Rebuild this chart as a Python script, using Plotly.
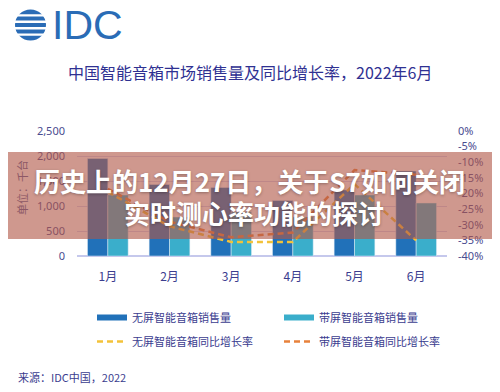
import plotly.graph_objects as go

# ---- data ----
months = ['1月', '2月', '3月', '4月', '5月', '6月']
no_screen_sales = [1950, 1430, 1370, 1110, 1320, 1700]
screen_sales = [1220, 780, 880, 780, 1220, 1060]
no_screen_growth = [-19.5, -30.5, -35.5, -35.5, -17.0, -35.0]
screen_growth = [-18.5, -29.0, -34.0, -32.5, -12.5, -14.0]

left_ticks = [0, 500, 1000, 1500, 2000, 2500]
left_ticktext = ['0', '500', '1,000', '1,500', '2,000', '2,500']
right_ticks = [0, -5, -10, -15, -20, -25, -30, -35, -40]
right_ticktext = ['0%', '-5%', '-10%', '-15%', '-20%', '-25%', '-30%', '-35%', '-40%']

names = ['无屏智能音箱销售量', '带屏智能音箱销售量', '无屏智能音箱同比增长率', '带屏智能音箱同比增长率']
title_text = '中国智能音箱市场销售量及同比增长率，2022年6月'
source_text = '来源：IDC中国，2022'
overlay_line1 = '历史上的12月27日，关于S7如何关闭'
overlay_line2 = '实时测心率功能的探讨'

# ---- layout geometry (page has an 8px body margin) ----
OFF = 8
W, H = 484, 376
L, T = 77 - OFF, 131 - OFF
RIGHT, BOT = 447 - OFF, 256 - OFF
R, B = W - RIGHT, H - BOT
PW, PH = RIGHT - L, BOT - T

def px(x):  # screen x -> paper
    return (x - OFF - L) / PW

def py(y):  # screen y -> paper
    return (BOT - (y - OFF)) / PH

NAVY = '#3b3d8f'
DARK_BLUE = '#2171b9'
TEAL = '#3aaecb'
YELLOW = '#f3c23a'
ORANGE = '#e7813b'
FONT = 'Noto Sans, Noto Sans CJK SC, sans-serif'
CJK = 'Noto Sans CJK SC, Noto Sans, sans-serif'

fig = go.Figure()
fig.add_trace(go.Bar(x=months, y=no_screen_sales, name=names[0], marker_color=DARK_BLUE,
                     showlegend=False))
fig.add_trace(go.Bar(x=months, y=screen_sales, name=names[1], marker_color=TEAL,
                     showlegend=False))
fig.add_trace(go.Scatter(x=months, y=no_screen_growth, name=names[2], yaxis='y2', mode='lines',
                         line=dict(color=YELLOW, width=2.5, dash='6px,4px'), showlegend=False))
fig.add_trace(go.Scatter(x=months, y=screen_growth, name=names[3], yaxis='y2', mode='lines',
                         line=dict(color=ORANGE, width=2.5, dash='6px,4px'), showlegend=False))

# legend entries (bar items drawn as thick lines like the original), two columns
leg_styles = [dict(color=DARK_BLUE, width=6), dict(color=TEAL, width=6),
              dict(color=YELLOW, width=2.5, dash='6px,4px'), dict(color=ORANGE, width=2.5, dash='6px,4px')]
leg_ids = ['legend', 'legend2', 'legend', 'legend2']
for i, (nm, st, lg) in enumerate(zip(names, leg_styles, leg_ids)):
    fig.add_trace(go.Scatter(x=[None], y=[None], mode='lines', name=nm, line=st, showlegend=True,
                             legend=lg, legendgroup='g%d' % i))

shapes = []
# overlay band
shapes.append(dict(type='rect', xref='paper', yref='paper', x0=px(-5), x1=px(505), y0=py(239), y1=py(152),
                   fillcolor='rgba(176,86,71,0.61)', line=dict(width=0), layer='above'))
# logo circle with stripes
shapes.append(dict(type='circle', xref='paper', yref='paper', x0=px(15), x1=px(46), y0=py(40.5), y1=py(9.5),
                   fillcolor='#2a6cb6', line=dict(width=0), layer='above'))
for g in [14.2, 20.6, 27.0, 33.4]:
    shapes.append(dict(type='rect', xref='paper', yref='paper', x0=px(13), x1=px(48), y0=py(g + 2.4), y1=py(g),
                       fillcolor='white', line=dict(width=0), layer='above'))

def ann(text, x, y, size, color, family=CJK, xanchor='center', font_extra=None, **kw):
    f = dict(family=family, size=size, color=color)
    if font_extra:
        f.update(font_extra)
    return dict(text=text, xref='paper', yref='paper', x=px(x), y=py(y), xanchor=xanchor,
                yanchor='middle', showarrow=False, font=f, **kw)

shadow = '0px 1px 3px rgba(0,0,0,0.3)'
annotations = [
    ann('IDC', 50, 25.5, 41, '#2a6cb6', family='Liberation Sans, Arial, sans-serif', xanchor='left'),
    ann(title_text, 250, 72, 16, '#2f3192'),
    ann(source_text, 16, 377, 11, NAVY, xanchor='left'),
    ann('单位：千台', 22, 188, 11, '#8d5866', textangle=-90),
    ann(overlay_line1, 249, 180, 26, 'white', font_extra=dict(weight='bold', shadow=shadow)),
    ann(overlay_line2, 254, 212, 26, 'white', font_extra=dict(weight='bold', shadow=shadow)),
]

legend_common = dict(orientation='v', xref='container', yref='container', xanchor='left', yanchor='top',
                     traceorder='grouped', tracegroupgap=5,
                     font=dict(family=CJK, size=11, color=NAVY), bgcolor='rgba(0,0,0,0)')

fig.update_layout(
    width=W, height=H,
    margin=dict(l=L, r=R, t=T, b=B, pad=0, autoexpand=False),
    paper_bgcolor='white', plot_bgcolor='white',
    barmode='group', bargap=0.34, bargroupgap=0,
    font=dict(family=FONT, size=11, color=NAVY),
    xaxis=dict(showgrid=False, showline=False, zeroline=False, ticks='', ticklabelstandoff=12,
               tickfont=dict(family=CJK, size=12, color=NAVY)),
    yaxis=dict(range=[0, 2500], tickvals=left_ticks, ticktext=left_ticktext, showgrid=True,
               gridcolor='#d3d3f0', gridwidth=1, zeroline=True, zerolinecolor='#c5c8ec', zerolinewidth=1.5,
               showline=False, ticks='', ticklabelstandoff=11, tickfont=dict(size=11, color='#4a4c90')),
    yaxis2=dict(range=[-40, 0], overlaying='y', side='right', tickvals=right_ticks, ticktext=right_ticktext,
                showgrid=False, zeroline=False, showline=False, ticks='', ticklabelstandoff=10,
                tickfont=dict(size=11, color='#4a4c90')),
    legend=dict(x=(92 - OFF) / W, y=1 - (303 - OFF) / H, **legend_common),
    legend2=dict(x=(279 - OFF) / W, y=1 - (303 - OFF) / H, **legend_common),
    shapes=shapes,
    annotations=annotations,
)

fig.write_html('out.html')
